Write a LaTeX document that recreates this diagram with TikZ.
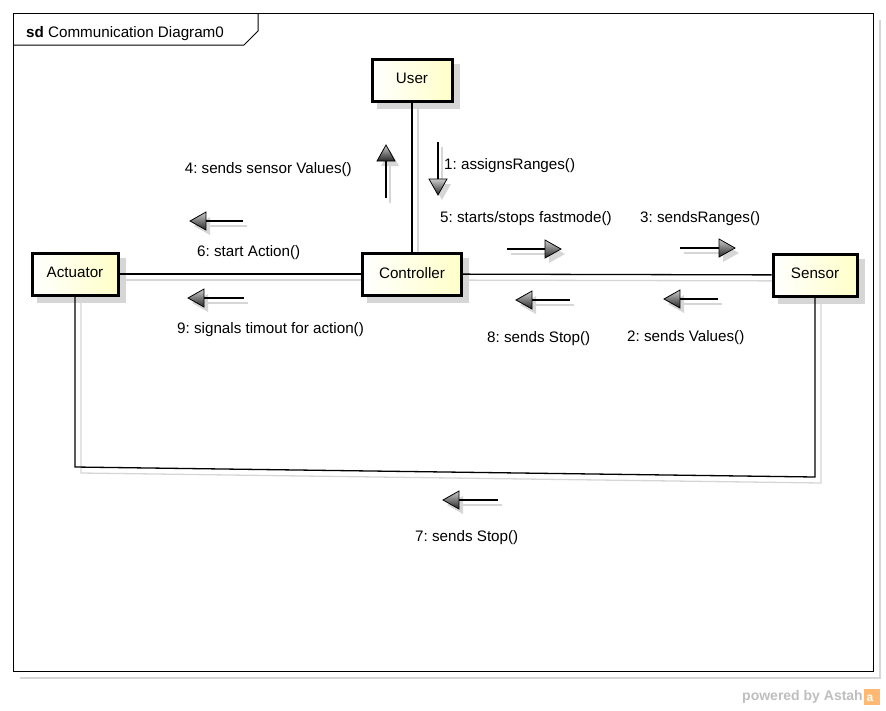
\documentclass[tikz,border=0pt]{standalone}
\usepackage{fontspec}
\setmainfont{Liberation Sans}
\usetikzlibrary{calc,backgrounds}
\frenchspacing

\definecolor{umlyellow}{RGB}{255,255,200}
\definecolor{shadowgray}{RGB}{214,214,214}
\definecolor{footgray}{RGB}{190,190,190}
\newcommand\umlfont{\fontsize{15.2}{18}\selectfont}
\newcommand\objlabel[1]{\raisebox{3pt}{#1}}

\tikzset{
  obj/.style={draw=black, line width=3pt, left color=white, right color=umlyellow,
              minimum height=42pt, inner sep=0pt, font=\umlfont},
  link/.style={line width=1.3pt, black},
  linkshadow/.style={line width=1.3pt, shadowgray},
  msg/.style={font=\umlfont, inner sep=0pt, yshift=-2.5pt},
  headfill/.style={draw=black, line width=0.8pt, top color=black!20, bottom color=black!85},
}

% message arrow: #1 = name prefix, #2 = start point, #3 = tip point
\newcommand\msgarrow[3]{%
  \coordinate (#1-s) at (#2);
  \coordinate (#1-t) at (#3);
  \coordinate (#1-b) at ($(#1-t)!16pt!(#1-s)$);
  \coordinate (#1-l) at ($(#1-b)!9pt!90:(#1-t)$);
  \coordinate (#1-r) at ($(#1-b)!9pt!-90:(#1-t)$);
  \begin{scope}[transform canvas={shift={(4pt,-5pt)}}]
    \draw[shadowgray, line width=1.2pt] (#1-s) -- (#1-b);
    \fill[shadowgray] (#1-t) -- (#1-l) -- (#1-r) -- cycle;
  \end{scope}
  \draw[black, line width=1.2pt] (#1-s) -- (#1-b);
  \path[headfill] (#1-t) -- (#1-l) -- (#1-r) -- cycle;
}

\begin{document}
\begin{tikzpicture}[x=1pt, y=-1pt]
  \useasboundingbox (0,0) rectangle (886,710);

  % diagram frame with its shadow and the title tab
  \draw[shadowgray, line width=1.2pt] (20,678) -- (880,678) -- (880,20);
  \draw[black, line width=1pt] (13,13) rectangle (873,671);
  \draw[black, line width=1pt] (13,45) -- (244,45) -- (258,31) -- (258,13);
  \node[msg, anchor=west] (title) at (26,31)
    {\textbf{sd} Communication Diagram0};

  % lifeline objects
  \node[obj, minimum width=80pt] (user) at (412,80) {\objlabel{User}};
  \node[obj, minimum width=99pt] (ctrl) at (412,274) {\objlabel{Controller}};
  \node[obj, minimum width=86pt] (act)  at (75,274) {\objlabel{Actuator}};
  \node[obj, minimum width=84pt] (sens) at (815,275) {\objlabel{Sensor}};

  \coordinate (bl) at (75,467);
  \coordinate (br) at (815,477);

  \begin{scope}[on background layer]
    % object shadows
    \foreach \n in {user,ctrl,act,sens}
      \fill[shadowgray] ($(\n.north west)+(6,6)$) rectangle ($(\n.south east)+(6,6)$);
    % link shadows
    \begin{scope}[transform canvas={shift={(6pt,-6pt)}}]
      \draw[linkshadow] (user) -- (ctrl);
      \draw[linkshadow] (act) -- (ctrl);
      \draw[linkshadow] (ctrl) -- (sens);
      \draw[linkshadow] (act.south) -- (bl) -- (br) -- (sens.south);
    \end{scope}
    % links
    \draw[link] (user) -- (ctrl);
    \draw[link] (act) -- (ctrl);
    \draw[link] (ctrl) -- (sens);
    \draw[link] (act.south) -- (bl) -- (br) -- (sens.south);
  \end{scope}

  % messages
  \msgarrow{m1}{438,142}{438,195}
  \node[msg, anchor=west] (l1) at (444,163) {1: assignsRanges()};

  \msgarrow{m4}{386,198}{386,145}
  \node[msg, anchor=east] (l4) at (352,167) {4: sends sensor Values()};

  \msgarrow{m6}{243,221}{190,221}
  \node[msg, anchor=west] (l6) at (197,250) {6: start Action()};

  \msgarrow{m5}{507,249}{561,249}
  \node[msg, anchor=west] (l5) at (440,216) {5: starts/stops fastmode()};

  \msgarrow{m3}{680,248}{735,248}
  \node[msg, anchor=west] (l3) at (640,216) {3: sendsRanges()};

  \msgarrow{m9}{244,298}{188,298}
  \node[msg, anchor=west] (l9) at (177,327) {9: signals timout for action()};

  \msgarrow{m8}{570,300}{516,300}
  \node[msg, anchor=west] (l8) at (487,336) {8: sends Stop()};

  \msgarrow{m2}{718,299}{664,299}
  \node[msg, anchor=west] (l2) at (627,335) {2: sends Values()};

  \msgarrow{m7}{498,500}{443,500}
  \node[msg, anchor=west] (l7) at (415,535) {7: sends Stop()};

  % footer
  \node[anchor=east, inner sep=0pt, text=footgray, font=\fontsize{14}{16}\selectfont\bfseries]
    (foot) at (863,697) {powered by Astah};
  \fill[orange!55] (864,689) rectangle (880,705);
  \node[inner sep=0pt, text=white, font=\fontsize{12}{12}\selectfont\bfseries] (logo) at (870,698) {a};
\end{tikzpicture}
\end{document}
